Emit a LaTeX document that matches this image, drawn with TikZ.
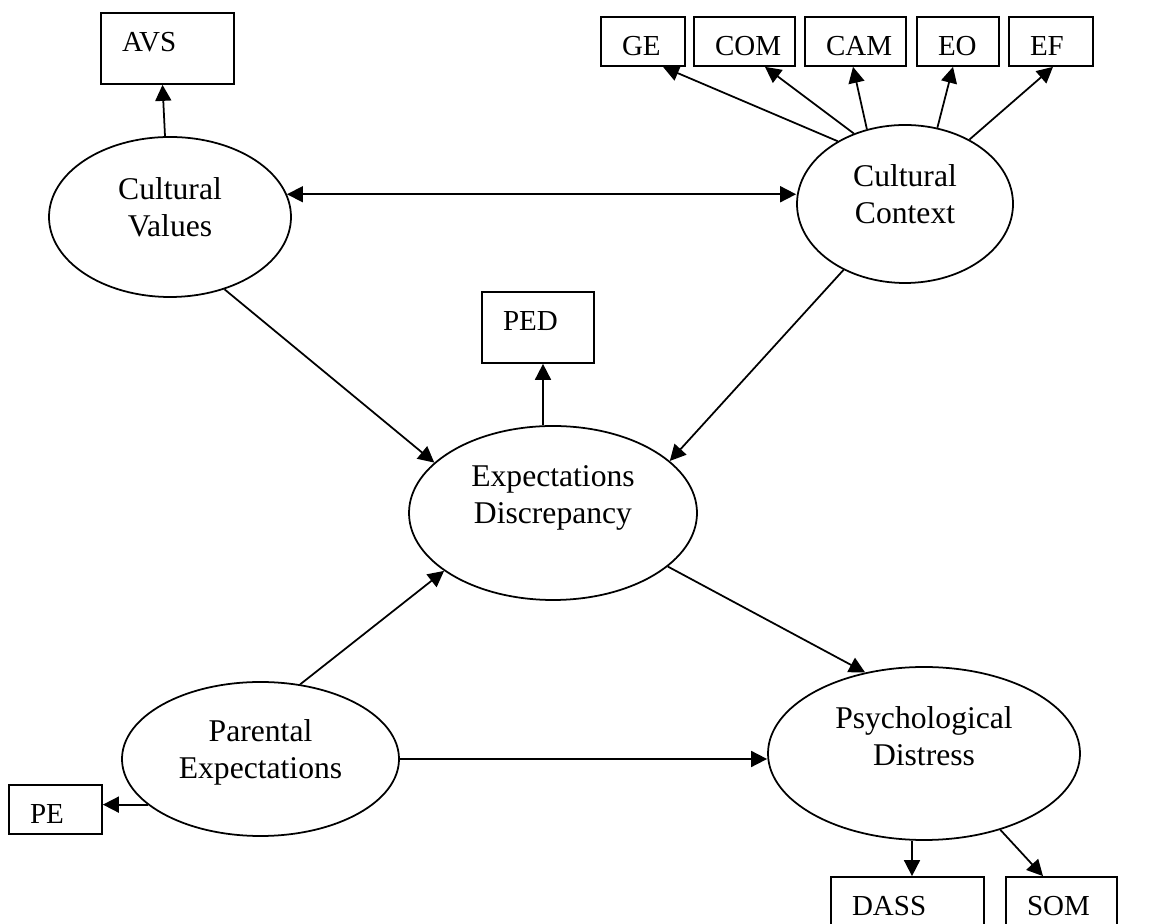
\documentclass[tikz,border=0pt]{standalone}
\usepackage{fontspec}
\setmainfont{Liberation Serif}
\usetikzlibrary{arrows.meta,positioning,shapes}

\begin{document}
\begin{tikzpicture}
    [
      latent/.style={ellipse,draw,line width=1pt,inner sep=0pt},
      ltext/.style={align=center,font=\fontsize{18}{21}\selectfont},
      ind/.style={rectangle,draw,line width=1pt,align=left,inner xsep=0.42cm,inner ysep=0pt,text height=0.77cm,text depth=0.21cm,font=\fontsize{16.5}{19}\selectfont},
      tall/.style={text depth=0.65cm},
      post/.style={->,>={Triangle[length=0.32cm,width=0.32cm]},line width=1pt}
    ]
    \useasboundingbox (0,0) rectangle (22.98,18.48);

    \node (vals) [latent, minimum width=4.84cm, minimum height=3.2cm, label={[ltext,yshift=0.2cm]center:Cultural\\Values}] at (3.40,14.14) {};
    \node (ctx) [latent, minimum width=4.32cm, minimum height=3.16cm, label={[ltext,yshift=0.2cm]center:Cultural\\Context}] at (18.10,14.40) {};
    \node (disc) [latent, minimum width=5.76cm, minimum height=3.48cm, label={[ltext,yshift=0.3cm]center:Expectations\\Discrepancy}] at (11.06,8.22) {};
    \node (par) [latent, minimum width=5.54cm, minimum height=3.08cm, label={[ltext,yshift=0.14cm]center:Parental\\Expectations}] at (5.21,3.30) {};
    \node (dist) [latent, minimum width=6.24cm, minimum height=3.46cm, label={[ltext,yshift=0.34cm]center:Psychological\\Distress}] at (18.48,3.41) {};

    \node (avs) [ind, tall, text width=1.82cm] at (3.35,17.51) {AVS};
    \node (ge) [ind, text width=0.84cm] at (12.86,17.65) {GE};
    \node (com) [ind, text width=1.18cm] at (14.89,17.65) {COM};
    \node (cam) [ind, text width=1.18cm] at (17.11,17.65) {CAM};
    \node (eo) [ind, text width=0.80cm] at (19.16,17.65) {EO};
    \node (ef) [ind, text width=0.84cm] at (21.02,17.65) {EF};
    \node (ped) [ind, tall, text width=1.40cm] at (10.76,11.93) {PED};
    \node (pe) [ind, text width=1.02cm] at (1.11,2.29) {PE};
    \node (dass) [ind, tall, text width=2.22cm] at (18.15,0.23) {DASS};
    \node (som) [ind, tall, text width=1.38cm] at (21.23,0.23) {SOM};

    \path
    ([xshift=-0.1cm]vals.north) edge [post] ([xshift=-0.1cm]avs.south)
    (vals.11) edge [post, <->] (vals.11 -| ctx.west)
    (ctx.137) edge [post] ([xshift=0.4cm]ge.south)
    (ctx.126) edge [post] ([xshift=0.41cm]com.south)
    (ctx.117) edge [post] ([xshift=-0.05cm]cam.south)
    (ctx.67) edge [post] ([xshift=-0.1cm]eo.south)
    (ctx.45) edge [post] ([xshift=0.04cm]ef.south)
    (vals.307) edge [post] (disc.157)
    (ctx.227) edge [post] (disc.24)
    ([xshift=-0.2cm]disc.north) edge [post] ([xshift=0.1cm]ped.south)
    (disc.335) edge [post] (dist.126)
    (par.62) edge [post] (disc.208)
    (par.east) edge [post] (par.east -| dist.west)
    (par.202) edge [post] (par.202 -| pe.east)
    ([xshift=-0.24cm]dist.south) edge [post] ([xshift=0.09cm]dass.north)
    (dist.315) edge [post] ([xshift=-0.37cm]som.north)
    ;

  \end{tikzpicture}
\end{document}
